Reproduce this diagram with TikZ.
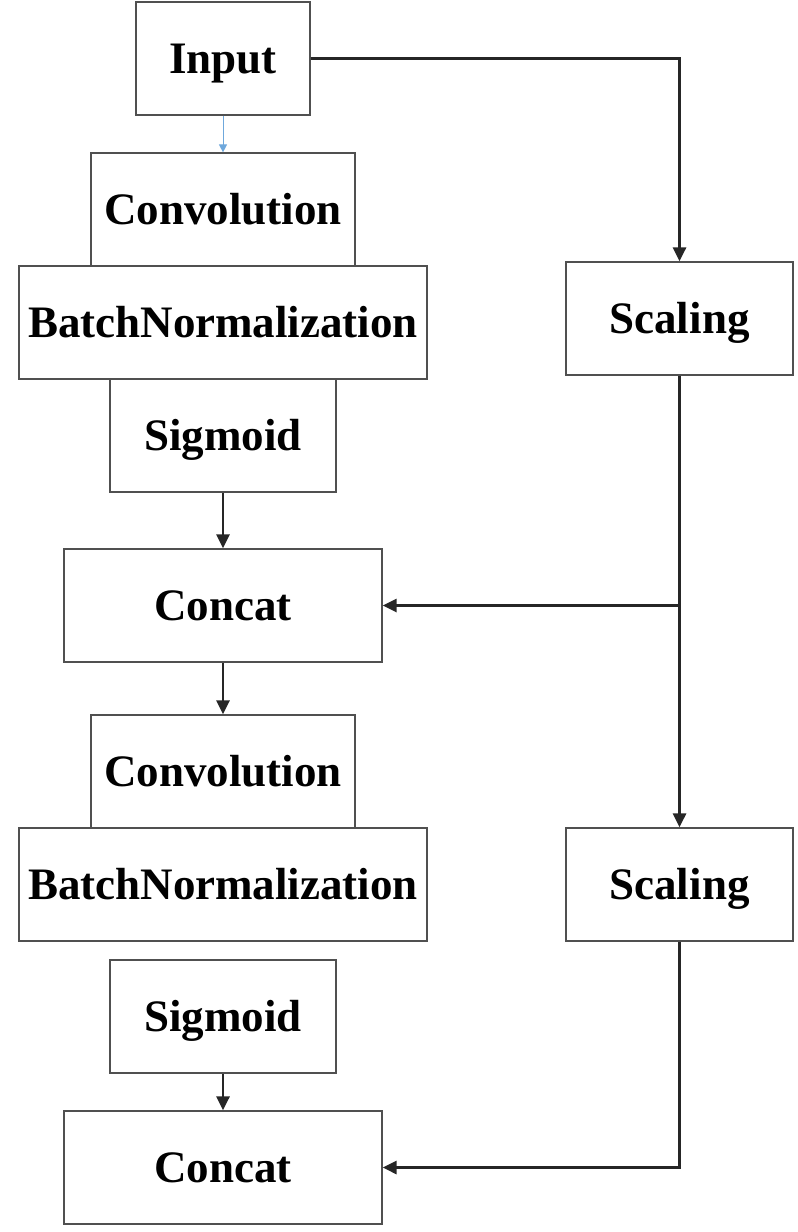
\documentclass[tikz,border=0pt]{standalone}
\usepackage{fontspec}
\setmainfont{Liberation Serif}
\usetikzlibrary{arrows.meta}

\definecolor{boxgray}{HTML}{505050}
\definecolor{linkgray}{HTML}{262626}
\definecolor{linkblue}{HTML}{6FA8DC}

\tikzset{
  box/.style={draw=boxgray, line width=1.2pt, fill=white, minimum height=113pt,
    inner sep=0pt, text height=30pt, text depth=0pt,
    font=\bfseries\fontsize{45}{50}\selectfont},
  link/.style={draw=linkgray, line width=2.8pt, -{Triangle[length=14pt,width=13pt]}},
}

\begin{document}
\begin{tikzpicture}[x=1pt, y=-1pt]

        \useasboundingbox (0,0) rectangle (798,1232);

        % left column
        \node[box, minimum width=174pt] (input) at (223,58.5) {Input};
        \node[box, minimum width=264pt] (conv1) at (223,209.5) {Convolution};
        \node[box, minimum width=408pt] (bn1) at (223,322.5) {BatchNormalization};
        \node[box, minimum width=226pt] (sig1) at (223,435.5) {Sigmoid};
        \node[box, minimum width=318pt] (concat1) at (223,605.5) {Concat};
        \node[box, minimum width=264pt] (conv2) at (223,771.5) {Convolution};
        \node[box, minimum width=408pt] (bn2) at (223,884.5) {BatchNormalization};
        \node[box, minimum width=226pt] (sig2) at (223,1016.5) {Sigmoid};
        \node[box, minimum width=318pt] (concat2) at (223,1167.5) {Concat};

        % right column
        \node[box, minimum width=227pt] (scale1) at (679.5,318.5) {Scaling};
        \node[box, minimum width=227pt] (scale2) at (679.5,884.5) {Scaling};

        \coordinate (split) at (scale1.south |- concat1.east);

        \draw[draw=linkblue, line width=1pt, -{Triangle[length=8pt,width=8pt]}] (input.south) -- (conv1.north);
        \draw[link] (input.east) -| (scale1.north);
        \draw[link] (sig1.south) -- (concat1.north);
        \draw[link] (scale1.south) -- (scale2.north);
        \draw[link] (split) -- (concat1.east);
        \draw[link] (concat1.south) -- (conv2.north);
        \draw[link] (sig2.south) -- (concat2.north);
        \draw[link] (scale2.south) |- (concat2.east);

      \end{tikzpicture}
\end{document}
